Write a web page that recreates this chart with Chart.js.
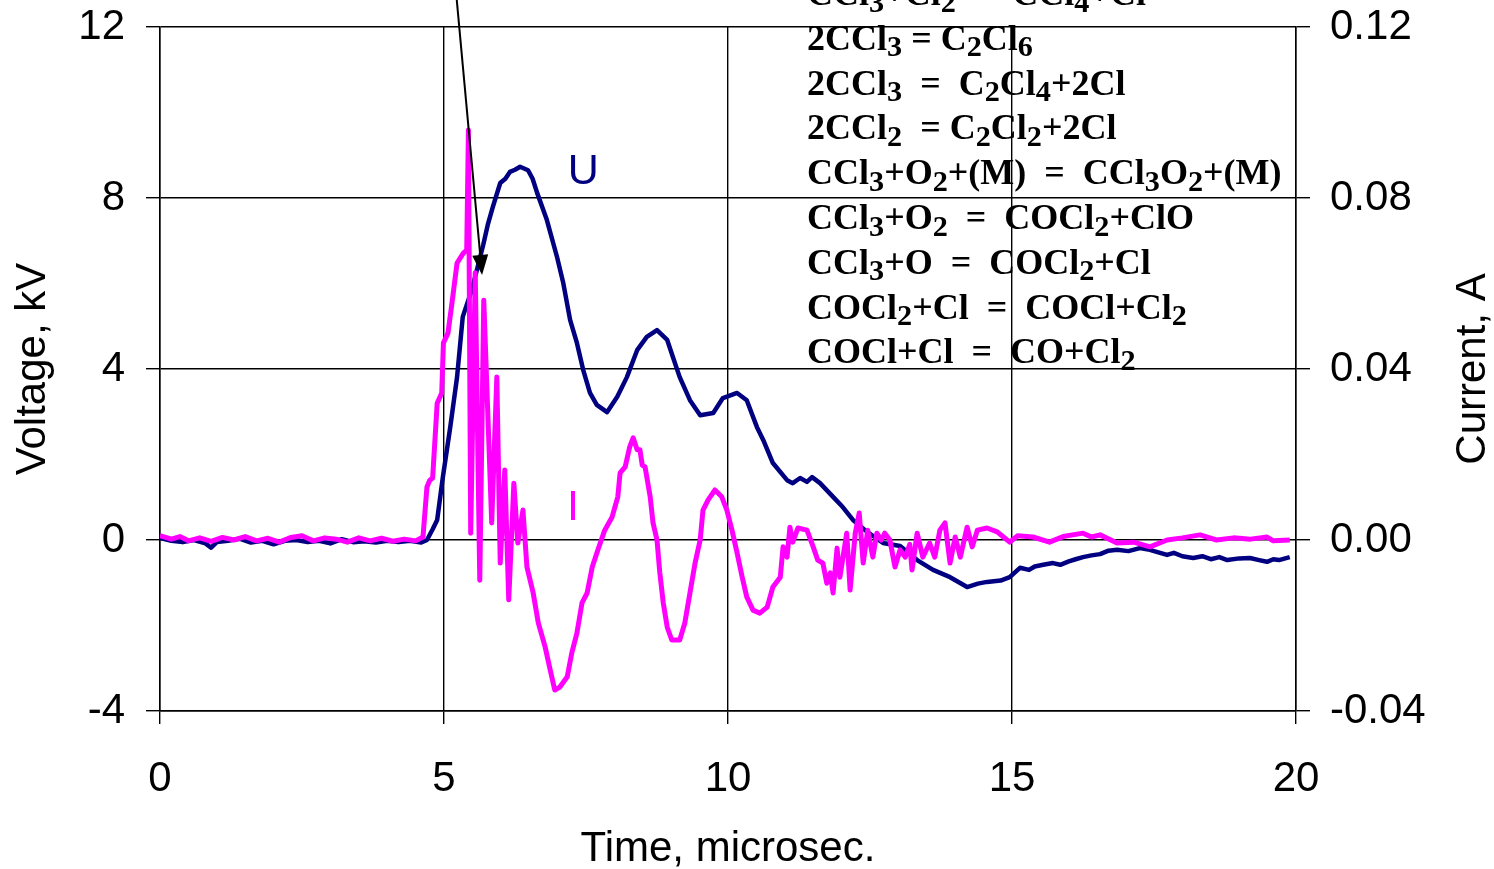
<!DOCTYPE html>
<html>
<head>
<meta charset="utf-8">
<script src="https://cdn.jsdelivr.net/npm/chart.js@4.4.1/dist/chart.umd.min.js"></script>
<style>
  body { margin: 0; background: #fff; overflow: hidden; }
  #wrap { position: absolute; left: 0; top: 0; width: 1494px; height: 869px; }
  #eqs {
    position: absolute; left: 807px; top: -29px;
    font: bold 36px "Liberation Serif", "Times New Roman", serif;
    line-height: 44.8px; color: #000; white-space: pre; pointer-events: none;
  }
  #eqs sub { font-size: 0.84em; line-height: 0; vertical-align: baseline; position: relative; top: 0.22em; }
</style>
</head>
<body>
<div id="wrap"><canvas id="graphCanvas"></canvas></div>
<div id="eqs">CCl<sub>3</sub>+Cl<sub>2</sub>  =  CCl<sub>4</sub>+Cl
2CCl<sub>3</sub> = C<sub>2</sub>Cl<sub>6</sub>
2CCl<sub>3</sub>  =  C<sub>2</sub>Cl<sub>4</sub>+2Cl
2CCl<sub>2</sub>  = C<sub>2</sub>Cl<sub>2</sub>+2Cl
CCl<sub>3</sub>+O<sub>2</sub>+(M)  =  CCl<sub>3</sub>O<sub>2</sub>+(M)
CCl<sub>3</sub>+O<sub>2</sub>  =  COCl<sub>2</sub>+ClO
CCl<sub>3</sub>+O  =  COCl<sub>2</sub>+Cl
COCl<sub>2</sub>+Cl  =  COCl+Cl<sub>2</sub>
COCl+Cl  =  CO+Cl<sub>2</sub></div>

<script>
// time axis ticks (microsec.)
var timeTicks = [0, 5, 10, 15, 20];
var voltageTicks = [-4, 0, 4, 8, 12];
var currentTicks = [-0.04, 0.00, 0.04, 0.08, 0.12];

// U - voltage, kV
var uTime = [0, 0.2, 0.4, 0.6, 0.8, 0.9, 1.0, 1.2, 1.4, 1.6, 1.8, 2.0, 2.2, 2.4, 2.6, 2.8, 3.0, 3.2, 3.4, 3.6, 3.8, 4.0, 4.2, 4.4, 4.6,
    4.70, 4.80, 4.88, 4.98, 5.11, 5.23, 5.33, 5.40, 5.49, 5.58, 5.69, 5.77, 5.86, 5.99, 6.08, 6.16, 6.25, 6.34, 6.48, 6.56, 6.64,
    6.81, 6.99, 7.10, 7.22, 7.34, 7.45, 7.57, 7.69, 7.87, 8.05, 8.22, 8.40, 8.57, 8.75, 8.93, 9.03, 9.15, 9.33, 9.51, 9.74,
    9.91, 10.16, 10.33, 10.51, 10.62, 10.79, 11.04, 11.14, 11.27, 11.39, 11.48, 11.62, 11.85, 12.02, 12.20, 12.45, 12.73,
    13.03, 13.33, 13.61, 13.91, 14.21, 14.40, 14.56, 14.80, 14.96, 15.14, 15.30, 15.40, 15.55, 15.72, 15.85, 16.0, 16.12, 16.25,
    16.40, 16.55, 16.70, 16.85, 17.05, 17.25, 17.40, 17.50, 17.73, 17.85, 18.00, 18.19, 18.35, 18.50, 18.65, 18.79, 19.00,
    19.19, 19.35, 19.49, 19.60, 19.70, 19.89];
var uValue = [0.05, -0.02, -0.05, 0.0, -0.08, -0.18, -0.05, -0.02, 0.03, -0.06, -0.02, -0.10, -0.02, 0.0, -0.05, -0.02, -0.08, 0.02, -0.05, -0.03, -0.06, -0.02, -0.05, -0.02, -0.06,
    0.0, 0.25, 0.47, 1.47, 2.64, 3.81, 5.22, 5.50, 5.85, 6.32, 6.90, 7.37, 7.79, 8.35, 8.45, 8.61, 8.66, 8.73, 8.65, 8.45, 8.12,
    7.49, 6.62, 6.01, 5.15, 4.61, 3.98, 3.44, 3.16, 2.99, 3.35, 3.81, 4.44, 4.75, 4.91, 4.68, 4.28, 3.81, 3.27, 2.92, 2.97,
    3.32, 3.44, 3.27, 2.64, 2.34, 1.80, 1.40, 1.33, 1.45, 1.36, 1.47, 1.33, 1.01, 0.77, 0.47, 0.19, -0.07,
    -0.14, -0.47, -0.70, -0.87, -1.10, -1.02, -0.98, -0.95, -0.87, -0.65, -0.70, -0.62, -0.58, -0.54, -0.58, -0.50, -0.45, -0.40,
    -0.36, -0.33, -0.25, -0.23, -0.26, -0.19, -0.22, -0.26, -0.35, -0.30, -0.38, -0.42, -0.38, -0.45, -0.40, -0.47, -0.43,
    -0.42, -0.47, -0.51, -0.45, -0.47, -0.40];

// I - current, A
var iTime = [0.0, 0.2, 0.35, 0.5, 0.7, 0.9, 1.1, 1.3, 1.5, 1.7, 1.9, 2.1, 2.3, 2.5, 2.7, 2.9, 3.1, 3.3, 3.5, 3.7, 3.9, 4.1, 4.3, 4.5,
    4.63, 4.70, 4.75, 4.80, 4.88, 4.96, 4.99, 5.07, 5.14, 5.23, 5.34, 5.40, 5.43, 5.47, 5.55, 5.63, 5.70, 5.84, 5.93, 5.99,
    6.07, 6.14, 6.23, 6.30, 6.39, 6.46, 6.57, 6.66, 6.78, 6.87, 6.95, 7.04, 7.17, 7.25, 7.34, 7.43, 7.52, 7.61, 7.71, 7.83,
    7.96, 8.06, 8.10, 8.19, 8.27, 8.33, 8.40, 8.45, 8.49, 8.54, 8.63, 8.68, 8.75, 8.80, 8.86, 8.93, 9.01, 9.15, 9.24, 9.33,
    9.42, 9.51, 9.56, 9.65, 9.77, 9.89, 9.98, 10.07, 10.16, 10.25, 10.33, 10.44, 10.56, 10.69, 10.79, 10.92, 10.97, 11.04,
    11.09, 11.14, 11.23, 11.39, 11.50, 11.58, 11.67, 11.74, 11.80, 11.85, 11.92, 11.97, 12.09, 12.15, 12.24, 12.31, 12.38,
    12.46, 12.55, 12.62, 12.70, 12.76, 12.85, 12.94, 13.03, 13.12, 13.20, 13.24, 13.33, 13.43, 13.55, 13.64, 13.73, 13.82,
    13.91, 14.00, 14.09, 14.21, 14.30, 14.39, 14.56, 14.74, 14.85, 14.96, 15.10, 15.37, 15.66, 15.90, 16.25, 16.40, 16.55,
    16.85, 17.14, 17.43, 17.73, 18.00, 18.31, 18.60, 18.90, 19.20, 19.49, 19.60, 19.89];
var iValue = [0.0010, 0.0002, 0.0008, -0.0002, 0.0005, -0.0003, 0.0006, 0.0, 0.0008, -0.0002, 0.0004, -0.0005, 0.0006, 0.0010, -0.0002, 0.0005, 0.0002, -0.0005, 0.0005, -0.0002, 0.0004, -0.0003, 0.0002, -0.0002,
    0.0007, 0.0124, 0.0140, 0.0145, 0.0320, 0.0344, 0.0461, 0.0484, 0.0554, 0.0648, 0.0671, 0.0678, 0.0959, 0.0016, 0.0625, -0.0094, 0.0561, 0.0040, 0.0381, -0.0054,
    0.0164, -0.0140, 0.0133, -0.0007, 0.0070, -0.0063, -0.0124, -0.0194, -0.0250, -0.0304, -0.0351, -0.0344, -0.0320, -0.0264, -0.0218, -0.0147, -0.0124, -0.0063, -0.0023, 0.0023,
    0.0054, 0.0101, 0.0157, 0.0171, 0.0218, 0.0239, 0.0211, 0.0211, 0.0175, 0.0171, 0.0101, 0.0040, 0.0, -0.0077, -0.0147, -0.0204, -0.0234, -0.0234, -0.0194, -0.0124,
    -0.0054, 0.0, 0.0070, 0.0094, 0.0117, 0.0101, 0.0070, 0.0023, -0.0030, -0.0087, -0.0133, -0.0164, -0.0171, -0.0157, -0.0110, -0.0087, -0.0016, -0.0040,
    0.0030, -0.0005, 0.0028, 0.0023, -0.0016, -0.0047, -0.0054, -0.0101, -0.0077, -0.0124, -0.0019, -0.0087, 0.0016, -0.0117, 0.0016, 0.0063, -0.0054,
    0.0023, -0.0040, 0.0016, 0.0, 0.0016, 0.0, -0.0063, -0.0023, -0.0040, -0.0010, -0.0070, 0.0016, -0.0040, -0.0007, -0.0040, 0.0023, 0.0040,
    -0.0054, 0.0007, -0.0040, 0.0030, -0.0016, 0.0023, 0.0028, 0.0019, 0.0007, -0.0005, 0.0010, 0.0007, -0.0005, 0.0008, 0.0016, 0.0007, 0.0012,
    -0.0007, -0.0005, -0.0016, 0.0, 0.0005, 0.0012, 0.0, 0.0005, 0.0002, 0.0007, -0.0002, 0.0];

// label / arrow anchors in data units (time, kV)
var uLabel = [7.45, 8.6];
var iLabel = [7.27, 0.75];
var arrowFrom = [5.22, 12.7];
var arrowTo = [5.67, 6.2];

function toPoints(xs, ys) {
    var pts = [];
    for (var i in xs) {
        pts.push({ x: xs[i], y: ys[i] });
    }
    return pts;
}

var fontFamily = '"Liberation Sans", Arial, sans-serif';
Chart.defaults.font.family = fontFamily;
Chart.defaults.color = '#000';

// keep the plot box where the original has it: no extra room for half tick labels
function noPad(s) {
    s.paddingTop = 0;
    s.paddingBottom = 0;
    s.paddingLeft = 0;
    s.paddingRight = 0;
}

var extras = {
    id: 'extras',
    afterDatasetsDraw: function (chart) {
        var ctx = chart.ctx;
        var x = chart.scales.x, y = chart.scales.y;
        ctx.save();
        // arrow
        var x0 = x.getPixelForValue(arrowFrom[0]), y0 = y.getPixelForValue(arrowFrom[1]);
        var x1 = x.getPixelForValue(arrowTo[0]), y1 = y.getPixelForValue(arrowTo[1]);
        var ang = Math.atan2(y1 - y0, x1 - x0);
        var head = 20, half = 8;
        var bx = x1 - head * Math.cos(ang), by = y1 - head * Math.sin(ang);
        ctx.strokeStyle = '#000';
        ctx.lineWidth = 2;
        ctx.beginPath();
        ctx.moveTo(x0, y0);
        ctx.lineTo(bx, by);
        ctx.stroke();
        ctx.fillStyle = '#000';
        ctx.beginPath();
        ctx.moveTo(x1, y1);
        ctx.lineTo(bx + half * Math.sin(ang), by - half * Math.cos(ang));
        ctx.lineTo(bx - half * Math.sin(ang), by + half * Math.cos(ang));
        ctx.closePath();
        ctx.fill();
        // series labels
        ctx.font = '43px ' + fontFamily;
        ctx.textAlign = 'center';
        ctx.textBaseline = 'middle';
        ctx.fillStyle = '#000080';
        ctx.fillText('U', x.getPixelForValue(uLabel[0]), y.getPixelForValue(uLabel[1]));
        ctx.fillStyle = '#FF00FF';
        ctx.fillText('I', x.getPixelForValue(iLabel[0]), y.getPixelForValue(iLabel[1]));
        ctx.restore();
    },
    afterDraw: function (chart) {
        // right axis title, reading bottom to top
        var ctx = chart.ctx;
        var area = chart.chartArea;
        ctx.save();
        ctx.translate(chart.width - 21, (area.top + area.bottom) / 2);
        ctx.rotate(-Math.PI / 2);
        ctx.font = '42px ' + fontFamily;
        ctx.fillStyle = '#000';
        ctx.textAlign = 'center';
        ctx.textBaseline = 'middle';
        ctx.fillText('Current, A', 0, 0);
        ctx.restore();
    }
};

var graphTarget = document.getElementById('graphCanvas');

var chart = new Chart(graphTarget, {
    type: 'line',
    data: {
        datasets: [{
            label: 'I',
            data: toPoints(iTime, iValue),
            yAxisID: 'y1',
            borderColor: '#FF00FF',
            borderWidth: 5,
            pointRadius: 0,
            tension: 0,
            borderJoinStyle: 'round'
        }, {
            label: 'U',
            data: toPoints(uTime, uValue),
            yAxisID: 'y',
            borderColor: '#000080',
            borderWidth: 4.5,
            pointRadius: 0,
            tension: 0,
            borderJoinStyle: 'round'
        }]
    },
    options: {
        responsive: true,
        maintainAspectRatio: false,
        animation: false,
        layout: { padding: { top: 27, left: 0, right: 0, bottom: 0 } },
        plugins: {
            legend: { display: false },
            tooltip: { enabled: false }
        },
        scales: {
            x: {
                type: 'linear',
                min: timeTicks[0],
                max: timeTicks[timeTicks.length - 1],
                afterFit: function (s) { s.height = 158; noPad(s); },
                afterBuildTicks: function (s) { s.ticks = timeTicks.map(function (v) { return { value: v }; }); },
                ticks: { font: { size: 42 }, padding: 30, maxRotation: 0 },
                grid: { color: '#000', lineWidth: 1.4, tickLength: 13 },
                border: { color: '#000', width: 1.5 },
                title: { display: true, text: 'Time, microsec.', font: { size: 42 }, padding: { top: 0, bottom: -6 } }
            },
            y: {
                position: 'left',
                min: voltageTicks[0],
                max: voltageTicks[voltageTicks.length - 1],
                afterFit: function (s) { s.width = 160; noPad(s); },
                afterBuildTicks: function (s) { s.ticks = voltageTicks.map(function (v) { return { value: v }; }); },
                ticks: { font: { size: 42 }, padding: 21 },
                grid: { color: '#000', lineWidth: 1.4, tickLength: 14 },
                border: { color: '#000', width: 1.5 },
                title: { display: true, text: 'Voltage, kV', font: { size: 42 }, padding: { top: 8, bottom: 0 } }
            },
            y1: {
                position: 'right',
                min: currentTicks[0],
                max: currentTicks[currentTicks.length - 1],
                afterFit: function (s) { s.width = 198; noPad(s); },
                afterBuildTicks: function (s) { s.ticks = currentTicks.map(function (v) { return { value: v }; }); },
                ticks: { font: { size: 42 }, padding: 20, callback: function (v) { return v.toFixed(2); } },
                grid: { drawOnChartArea: false, color: '#000', lineWidth: 1.4, tickLength: 14 },
                border: { color: '#000', width: 1.5 }
            }
        }
    },
    plugins: [extras]
});
</script>
</body>
</html>
